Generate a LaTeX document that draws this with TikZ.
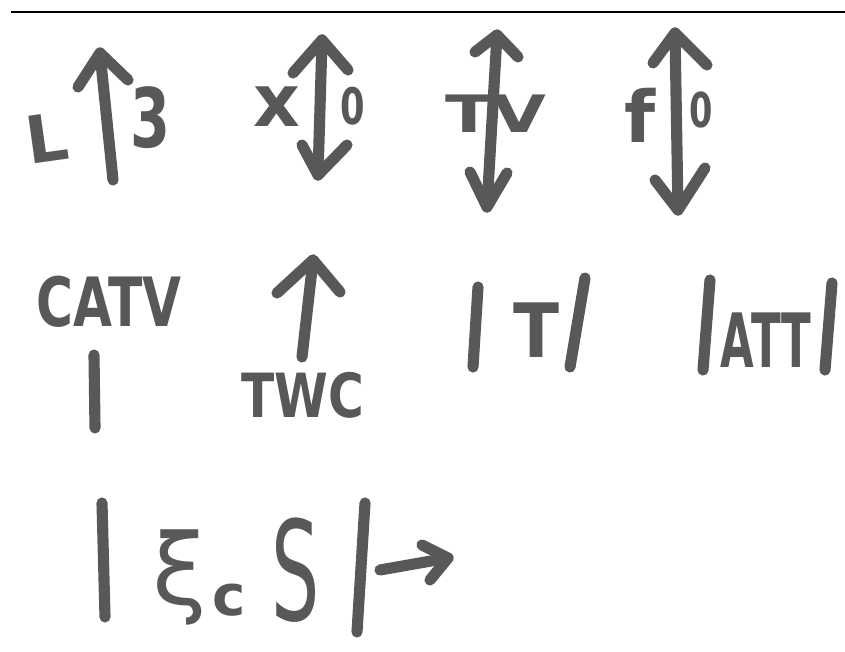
\documentclass[tikz,border=0pt]{standalone}
\usepackage{fontspec}
\newfontfamily\handfont{DejaVu Sans}
\usepackage{tikz}
\definecolor{ink}{RGB}{88,88,88}
\newcommand{\inksize}[1]{\fontsize{#1}{#1}\selectfont}

\begin{document}
\begin{tikzpicture}[
  x=0.03cm, y=-0.03cm,
  pen/.style={draw=ink, line width=9.5pt, line cap=round, line join=round},
  ink/.style={font=\handfont\bfseries, text=ink, inner sep=0pt},
  rule/.style={draw=black, line width=2pt},
]
\useasboundingbox (0,0) rectangle (845,652);

% top rule
\draw[rule] (11,12) -- (845,12);

% row 1: L up-arrow 3, x double-arrow 0, TV, f double-arrow 0
\node[ink, font=\handfont\bfseries\inksize{56}, rotate=8] (lab L) at (47,138) {L};
\draw[pen] (113,180) -- (100,53);
\draw[pen] (78,87) -- (100,53) -- (128,80);
\node[ink, font=\handfont\bfseries\inksize{70}, xscale=0.7] (lab three) at (150,118) {3};

\node[ink, font=\handfont\bfseries\inksize{62}] (lab x) at (277,107) {x};
\draw[pen] (322,40) -- (318,175);
\draw[pen] (293,73) -- (322,40) -- (348,70);
\draw[pen] (302,145) -- (318,175) -- (347,145);
\node[ink, font=\handfont\bfseries\inksize{43}, xscale=0.7] (lab zero a) at (353,106) {0};

\node[ink, font=\handfont\bfseries\inksize{44}, xscale=1.35] (lab tv) at (496,114) {TV};
\draw[pen] (497,35) -- (487,207);
\draw[pen] (475,52) -- (497,35) -- (518,57);
\draw[pen] (470,172) -- (487,207) -- (507,173);

\node[ink, font=\handfont\bfseries\inksize{61}] (lab f) at (640,115) {f};
\draw[pen] (675,33) -- (678,210);
\draw[pen] (653,63) -- (675,33) -- (707,65);
\draw[pen] (655,180) -- (678,210) -- (705,168);
\node[ink, font=\handfont\bfseries\inksize{41}, xscale=0.7] (lab zero b) at (701,110) {0};

% row 2: CATV, TWC, |T/, |ATT|
\node[ink, font=\handfont\bfseries\inksize{58}, xscale=0.74] (lab catv) at (109,302) {CATV};
\draw[pen] (94,355) -- (95,428);

\draw[pen] (313,260) -- (302,357);
\draw[pen] (277,293) -- (313,260) -- (340,292);
\node[ink, font=\handfont\bfseries\inksize{52}, xscale=0.8] (lab twc) at (303,395) {TWC};

\draw[pen] (478,287) -- (473,367);
\node[ink, font=\handfont\bfseries\inksize{64}, xscale=0.9] (lab t) at (537,330) {T};
\draw[pen] (585,278) -- (570,367);

\draw[pen] (710,280) -- (703,370);
\node[ink, font=\handfont\bfseries\inksize{64}, xscale=0.58] (lab att) at (766,340) {ATT};
\draw[pen] (832,283) -- (825,370);

% row 3: |xi c S| ->
\draw[pen] (102,503) -- (105,617);
\node[ink, font=\handfont\inksize{84}] (lab xi) at (180,577) {ξ};
\node[ink, font=\handfont\bfseries\inksize{48}] (lab c) at (229,600) {c};
\node[ink, font=\handfont\inksize{118}, xscale=0.55] (lab s) at (296,570) {S};
\draw[pen] (365,503) -- (357,632);
\draw[pen] (380,570) -- (448,558);
\draw[pen] (422,545) -- (448,558) -- (430,580);
\end{tikzpicture}
\end{document}
